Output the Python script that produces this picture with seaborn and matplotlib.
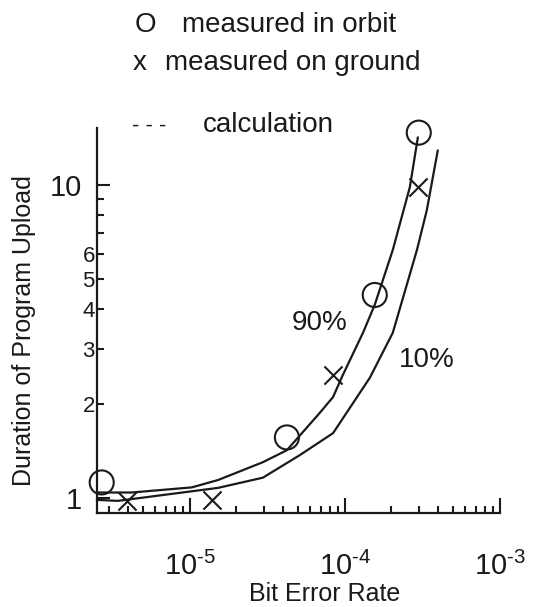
"""Duration of program upload vs bit error rate: measured points and calculated 10% / 90% curves."""
import matplotlib
matplotlib.use("Agg")
import matplotlib.pyplot as plt
import matplotlib.ticker as mticker
import seaborn as sns
import pandas as pd

# %%
# data
ber_90 = [2.51e-6, 4.2e-6, 1.03e-5, 1.52e-5, 2.96e-5, 4.23e-5, 6.9e-5, 8.4e-5,
          9.6e-5, 1.31e-4, 1.56e-4, 2.04e-4, 2.63e-4, 2.96e-4]
dur_90 = [1.04, 1.04, 1.08, 1.14, 1.30, 1.42, 1.87, 2.10,
          2.44, 3.37, 4.14, 6.2, 9.86, 14.2]

ber_10 = [2.51e-6, 3.43e-6, 1.52e-5, 2.96e-5, 5.13e-5, 8.4e-5, 1.45e-4,
          2.04e-4, 2.92e-4, 3.38e-4, 3.98e-4]
dur_10 = [0.985, 0.978, 1.076, 1.16, 1.37, 1.61, 2.42,
          3.37, 6.2, 8.3, 12.9]

ber_orbit = [2.7e-6, 4.23e-5, 1.56e-4, 3.0e-4]
dur_orbit = [1.12, 1.56, 4.45, 14.7]

ber_ground = [3.93e-6, 1.39e-5, 8.4e-5, 2.96e-4]
dur_ground = [0.975, 0.985, 2.47, 9.86]

x_major = [1e-5, 1e-4, 1e-3]
x_major_labels = ['$10^{\u2010 5}$', '$10^{\u2010 4}$', '$10^{\u2010 3}$']
y_major = [1, 10]
y_minor = [2, 3, 4, 5, 6, 7, 8, 9]
y_minor_labels = ['2', '3', '4', '5', '6', '', '', '']

# %%
sns.set_style('ticks')
plt.rcParams['font.family'] = ['Liberation Sans', 'DejaVu Sans']
plt.rcParams['mathtext.fontset'] = 'custom'
plt.rcParams['mathtext.rm'] = 'Liberation Sans'
plt.rcParams['mathtext.it'] = 'Liberation Sans'

ink = '#1a1a1a'
fig = plt.figure(figsize=(5.38, 6.07), dpi=100)
ax = fig.add_axes([0.180, 0.155, 0.749, 0.634])

curves = pd.concat([
    pd.DataFrame({'ber': ber_90, 'dur': dur_90, 'level': '90%'}),
    pd.DataFrame({'ber': ber_10, 'dur': dur_10, 'level': '10%'}),
])
sns.lineplot(data=curves, x='ber', y='dur', units='level', estimator=None, sort=False,
             color=ink, linewidth=1.6, ax=ax, clip_on=False)

sns.scatterplot(x=ber_orbit, y=dur_orbit, marker='o', s=300, facecolors='none',
                edgecolor=ink, linewidth=1.5, ax=ax, clip_on=False, zorder=3)
sns.scatterplot(x=ber_ground, y=dur_ground, marker='x', s=170, color=ink,
                linewidth=1.5, ax=ax, clip_on=False, zorder=3)

ax.set_xscale('log')
ax.set_yscale('log')
ax.set_xlim(10 ** -5.6, 1e-3)
ax.set_ylim(0.895, 15.2)

ax.set_xticks(x_major)
ax.set_xticklabels(x_major_labels, fontsize=21)
ax.xaxis.set_minor_locator(mticker.LogLocator(base=10, subs=range(2, 10), numticks=20))
ax.xaxis.set_minor_formatter(mticker.NullFormatter())

ax.set_yticks(y_major)
ax.set_yticklabels([str(v) for v in y_major], fontsize=21)
ax.yaxis.set_minor_locator(mticker.FixedLocator(y_minor))
ax.yaxis.set_minor_formatter(mticker.FixedFormatter(y_minor_labels))
for lab in ax.get_yticklabels(minor=True):
    lab.set_fontsize(16)

ax.tick_params(axis='x', which='major', direction='in', length=11, width=1.5, pad=28, colors=ink)
ax.tick_params(axis='x', which='minor', direction='in', length=5, width=1.5, colors=ink)
ax.tick_params(axis='y', which='major', direction='in', length=9, width=1.5, pad=11, colors=ink)
ax.tick_params(axis='y', which='minor', direction='in', length=5, width=1.5, pad=1.5, colors=ink)

sns.despine(ax=ax)
for side in ['left', 'bottom']:
    ax.spines[side].set_linewidth(1.6)
    ax.spines[side].set_color(ink)

ax.set_xlabel('Bit Error Rate', fontsize=18, color=ink)
ax.xaxis.set_label_coords(0.566, -0.179)
ax.set_ylabel('Duration of Program Upload', fontsize=18, color=ink)
ax.yaxis.set_label_coords(-0.151, 0.475)

# curve labels
fig.text(0.595, 0.468, '90%', fontsize=20, ha='center', va='center', color=ink)
fig.text(0.794, 0.407, '10%', fontsize=20, ha='center', va='center', color=ink)

# legend written as text above the axes
fig.text(0.251, 0.947, 'O', fontsize=20, va='baseline', color=ink)
fig.text(0.338, 0.947, 'measured in orbit', fontsize=20, va='baseline', color=ink)
fig.text(0.247, 0.885, 'x', fontsize=20, va='baseline', color=ink)
fig.text(0.307, 0.885, 'measured on ground', fontsize=20, va='baseline', color=ink)
fig.text(0.245, 0.783, '- - -', fontsize=16, va='baseline', color=ink)
fig.text(0.377, 0.783, 'calculation', fontsize=20, va='baseline', color=ink)

plt.savefig('out.png', dpi=100)
